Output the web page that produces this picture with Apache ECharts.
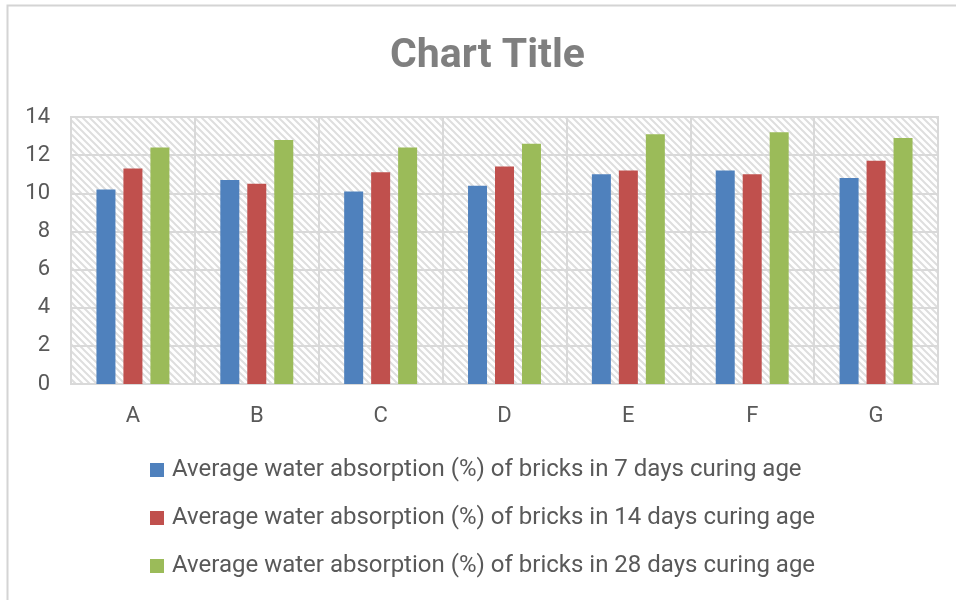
<!DOCTYPE html>
<html>
<head>
<meta charset="utf-8">
<script src="https://cdn.jsdelivr.net/npm/echarts@6/dist/echarts.min.js"></script>
<style>
  html, body { margin: 0; padding: 0; background: #fff; }
  #chart { width: 956px; height: 600px; }
</style>
</head>
<body>
<div id="chart"></div>
<script>
// Brick mixes and their average water absorption (%) at three curing ages
const categories = ['A', 'B', 'C', 'D', 'E', 'F', 'G'];
const days7  = [10.2, 10.7, 10.1, 10.4, 11.0, 11.2, 10.8];
const days14 = [11.3, 10.5, 11.1, 11.4, 11.2, 11.0, 11.7];
const days28 = [12.4, 12.8, 12.4, 12.6, 13.1, 13.2, 12.9];
const seriesNames = [
  'Average water absorption (%) of bricks in 7 days curing age',
  'Average water absorption (%) of bricks in 14 days curing age',
  'Average water absorption (%) of bricks in 28 days curing age'
];
const yTicks = { min: 0, max: 14, interval: 2 };

// Diagonal hatch tile for the plot background
function hatchTile() {
  const s = 7;
  const c = document.createElement('canvas');
  c.width = s; c.height = s;
  const g = c.getContext('2d');
  g.fillStyle = '#ffffff';
  g.fillRect(0, 0, s, s);
  g.strokeStyle = '#dedede';
  g.lineWidth = 2;
  g.beginPath();
  g.moveTo(-2, -2); g.lineTo(s + 2, s + 2);
  g.moveTo(s - 3, -3); g.lineTo(s + 3, 3);
  g.moveTo(-3, s - 3); g.lineTo(3, s + 3);
  g.stroke();
  return c;
}

const chart = echarts.init(document.getElementById('chart'), null, { renderer: 'canvas' });
const gridColor = '#d9d9d9';
const textColor = '#595959';
const font = 'Roboto, "Noto Sans", sans-serif';

function barSeries(name, data, color) {
  return {
    name: name,
    type: 'bar',
    data: data,
    barWidth: 19,
    barGap: '42%',
    itemStyle: { color: color },
    emphasis: { disabled: true }
  };
}

chart.setOption({
  animation: false,
  textStyle: { fontFamily: font },
  title: {
    text: 'Chart Title',
    left: 385,
    top: 31,
    textStyle: { fontFamily: font, fontSize: 41, fontWeight: 'bold', color: '#7f7f7f' }
  },
  graphic: [{
    type: 'rect',
    shape: { x: 7.5, y: 5.5, width: 960, height: 620 },
    style: { fill: 'none', stroke: '#d4d4d4', lineWidth: 2 },
    silent: true
  }],
  grid: {
    left: 71, right: 18, top: 117, bottom: 216,
    show: true,
    backgroundColor: { image: hatchTile(), repeat: 'repeat' },
    borderColor: gridColor,
    borderWidth: 2
  },
  legend: {
    orient: 'vertical',
    left: 145,
    top: 453,
    itemWidth: 14,
    itemHeight: 14,
    itemGap: 24,
    icon: 'rect',
    data: seriesNames,
    textStyle: { fontFamily: font, fontSize: 24, lineHeight: 24, color: textColor, padding: [0, 0, 0, 3] }
  },
  xAxis: {
    type: 'category',
    data: categories,
    axisLine: { lineStyle: { color: gridColor, width: 2 } },
    axisTick: { show: false },
    splitLine: { show: true, lineStyle: { color: gridColor, width: 2 } },
    axisLabel: { fontFamily: font, fontSize: 22, color: textColor, margin: 21 }
  },
  yAxis: {
    type: 'value',
    min: yTicks.min,
    max: yTicks.max,
    interval: yTicks.interval,
    axisLine: { show: false },
    axisTick: { show: false },
    splitLine: { lineStyle: { color: gridColor, width: 2 } },
    axisLabel: { fontFamily: font, fontSize: 22, color: textColor, margin: 21 }
  },
  series: [
    barSeries(seriesNames[0], days7, '#4f81bd'),
    barSeries(seriesNames[1], days14, '#c0504d'),
    barSeries(seriesNames[2], days28, '#9bbb59')
  ]
});
</script>
</body>
</html>
